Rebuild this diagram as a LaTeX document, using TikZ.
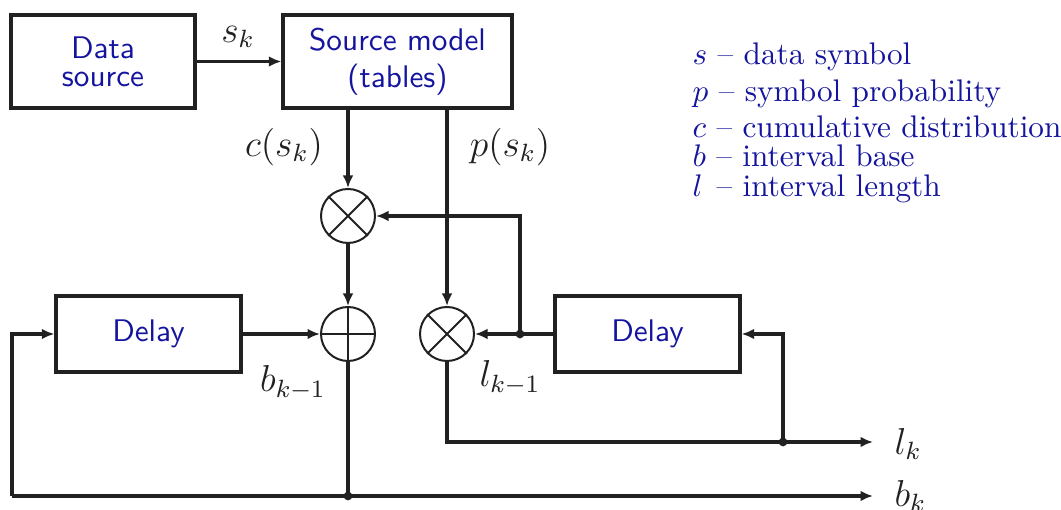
\documentclass[tikz,border=0pt]{standalone}
\usetikzlibrary{arrows.meta}
\definecolor{tblue}{rgb}{0.08,0.08,0.62}
\definecolor{tgray}{rgb}{0.13,0.13,0.13}
\def\u{0.32pt}
\begin{document}
\begin{tikzpicture}[x=0.32pt,y=-0.32pt,
  every node/.style={inner sep=0pt},
  box/.style={draw=tgray,line width=1pt,font=\sffamily,text=tblue,align=center},
  op/.style={draw=tgray,circle,line width=0.64pt,minimum size=54*\u},
  wire/.style={draw=tgray,line width=1pt},
  arr/.style={wire,-{Latex[length=4pt,width=3.4pt]}},
  dot/.style={circle,fill=tgray,minimum size=2.8pt},
  lab/.style={text=tgray,font=\large},
  leg/.style={text=tblue,anchor=base west}]
\useasboundingbox (0,0) rectangle (1061,510);
% blocks
\node[box,minimum width=184*\u,minimum height=93*\u] (ds) at (103,61.5) {Data\\[-3pt]source};
\node[box,minimum width=229*\u,minimum height=93*\u] (sm) at (397.5,61.5) {Source model\\(tables)};
\node[box,minimum width=185*\u,minimum height=76*\u] (dL) at (148.5,334) {Delay};
\node[box,minimum width=185*\u,minimum height=76*\u] (dR) at (647.5,334) {Delay};
% operators
\node[op] (m1) at (348,216) {};
\node[op] (add) at (348,334) {};
\node[op] (m2) at (447,334) {};
\draw[tgray,line width=0.64pt] (m1.north west)--(m1.south east) (m1.north east)--(m1.south west);
\draw[tgray,line width=0.64pt] (m2.north west)--(m2.south east) (m2.north east)--(m2.south west);
\draw[tgray,line width=0.64pt] (add.west)--(add.east) (add.north)--(add.south);
% junctions
\coordinate (j1) at (520,334);
\coordinate (j2) at (783,442);
\coordinate (j3) at (348,496);
\coordinate (c1) at (12,496);
\coordinate (lkend) at (873,442);
\coordinate (bkend) at (873,496);
% connectors
\draw[arr] (ds.east) -- (sm.west);
\draw[arr] (m1 |- sm.south) -- (m1.north);
\draw[arr] (m2 |- sm.south) -- (m2.north);
\draw[arr] (m1.south) -- (add.north);
\draw[arr] (dL.east) -- (add.west);
\draw[arr] (dR.west) -- (m2.east);
\draw[arr] (j1) |- (m1.east);
\draw[arr] (m2.south) |- (lkend);
\draw[arr] (j2) |- (dR.east);
\draw[wire] (add.south) -- (j3);
\draw[arr] (c1) -- (bkend);
\draw[arr] (c1) |- (dL.west);
\node[dot] at (j1) {};
\node[dot] at (j2) {};
\node[dot] at (j3) {};
% labels
\node[lab] at (238,37) {$s_k$};
\node[lab] at (284,147) {$c(s_k)$};
\node[lab] at (510,147) {$p(s_k)$};
\node[lab] at (293,383) {$b_{k-1}$};
\node[lab] at (510,378) {$l_{k-1}$};
\node[lab,anchor=west] at (894,444) {$l_k$};
\node[lab,anchor=west] at (894,496) {$b_k$};
% legend
\node[leg] at (692,65) {$s$ -- data symbol};
\node[leg] at (692,102) {$p$ -- symbol probability};
\node[leg] at (692,138) {$c$ -- cumulative distribution};
\node[leg] at (692,167) {$b$ -- interval base};
\node[leg] at (692,197) {$l$\hspace{0.45em}-- interval length};
\end{tikzpicture}
\end{document}
